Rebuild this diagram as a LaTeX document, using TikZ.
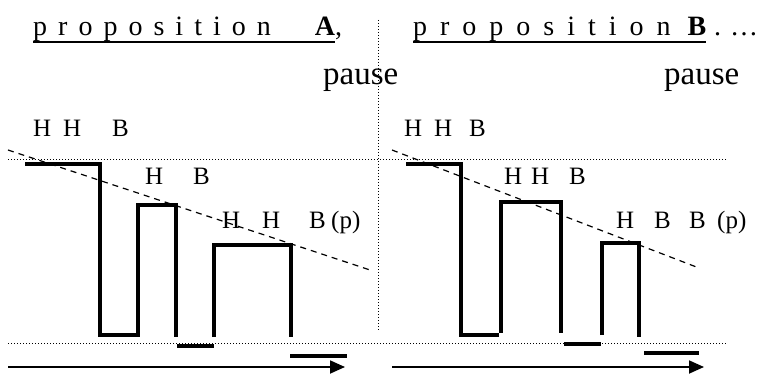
\documentclass[tikz,border=0pt]{standalone}
\usepackage{fontspec}
\setmainfont{Liberation Serif}
\usetikzlibrary{arrows.meta}
\begin{document}
\begin{tikzpicture}[x=1pt,y=-1pt,
  contour/.style={line width=4pt},
  dotline/.style={line width=1pt, dash pattern=on 1pt off 2pt},
  dashline/.style={line width=1.2pt, dash pattern=on 6pt off 5pt},
  axis/.style={line width=1.8pt, -{Triangle[length=15pt,width=13pt]}},
  title/.style={inner sep=0pt, anchor=base west, font=\fontsize{28}{28}\selectfont},
  pauselab/.style={inner sep=0pt, anchor=base west, font=\fontsize{33}{33}\selectfont},
  tone/.style={inner sep=0pt, anchor=base west, font=\fontsize{25}{25}\selectfont},
  uline/.style={line width=1.6pt}]
\useasboundingbox (0,0) rectangle (768,374);

% titles
\node[title] (pA) at (33,36) {\makebox[302pt]{p\hfill r\hfill o\hfill p\hfill o\hfill s\hfill i\hfill t\hfill i\hfill o\hfill n\hfill\hfill\hfill\hfill\textbf{A}}\rlap{,}};
\node[title] (pB) at (413,36) {\makebox[293pt]{p\hfill r\hfill o\hfill p\hfill o\hfill s\hfill i\hfill t\hfill i\hfill o\hfill n\hfill\hspace{4pt}\textbf{B}}\rlap{\hspace{8pt}.\hspace{9pt}\ldots}};
\draw[uline] ([yshift=-6pt]pA.base west) -- ([yshift=-6pt]pA.base east);
\draw[uline] ([yshift=-6pt]pB.base west) -- ([yshift=-6pt]pB.base east);

\node[pauselab] (pz1) at (323,85) {pause};
\node[pauselab] (pz2) at (664,85) {pause};

% guide lines
\coordinate (vt) at (378,20); \coordinate (vb) at (378,330);
\coordinate (ht1) at (8,160); \coordinate (ht2) at (726,160);
\coordinate (hb1) at (8,343); \coordinate (hb2) at (726,343);
\draw[dotline] (vt) -- (vb);
\draw[dotline] (ht1) -- (ht2);
\draw[dotline] (hb1) -- (hb2);

% declination lines
\coordinate (d1a) at (8,150); \coordinate (d1b) at (370,270);
\coordinate (d2a) at (392,150); \coordinate (d2b) at (699,268);
\draw[dashline] (d1a) -- (d1b);
\draw[dashline] (d2a) -- (d2b);

% pitch contours, group A
\draw[contour] (25,164) -- (100,164) -- (100,335) -- (138,335) -- (138,205) -- (176,205) -- (176,337);
\draw[contour] (177,346) -- (214,346);
\draw[contour] (214,337) -- (214,245) -- (291,245) -- (291,337);
\draw[contour] (290,356) -- (347,356);

% pitch contours, group B
\draw[contour] (406,164) -- (461,164) -- (461,335) -- (499,335);
\draw[contour] (501,333) -- (501,202) -- (561,202) -- (561,333);
\draw[contour] (564,344) -- (601,344);
\draw[contour] (602,335) -- (602,243) -- (639,243) -- (639,337);
\draw[contour] (644,353) -- (699,353);

% time axes
\coordinate (a1a) at (8,367); \coordinate (a1b) at (345,367);
\coordinate (a2a) at (392,367); \coordinate (a2b) at (704,367);
\draw[axis] (a1a) -- (a1b);
\draw[axis] (a2a) -- (a2b);

% tone labels
\node[tone] (t1) at (33,137) {\rlap{H}\hspace{30pt}\rlap{H}\hspace{49pt}B};
\node[tone] (m1) at (145,185) {\rlap{H}\hspace{48pt}B};
\node[tone] (b1) at (222,228) {\rlap{H}\hspace{40pt}\rlap{H}\hspace{47pt}\rlap{B}\hspace{22pt}(p)};
\node[tone] (t2) at (404,137) {\rlap{H}\hspace{30pt}\rlap{H}\hspace{35pt}B};
\node[tone] (m2) at (504,185) {\rlap{H}\hspace{27pt}\rlap{H}\hspace{38pt}B};
\node[tone] (b2) at (616,228) {\rlap{H}\hspace{38pt}\rlap{B}\hspace{35pt}\rlap{B}\hspace{28pt}(p)};
\end{tikzpicture}
\end{document}
